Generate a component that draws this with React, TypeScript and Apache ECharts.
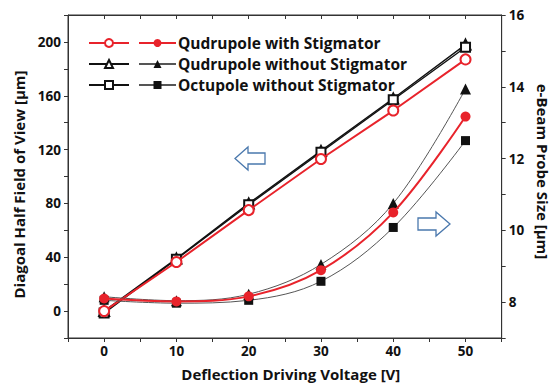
import React, { useEffect, useRef } from "react";
import * as echarts from "echarts";

const voltages = [0, 10, 20, 30, 40, 50];
// Left axis: diagonal half field of view [µm]
const fovQuadStig = [0, 36.5, 75, 113, 149, 187];
const fovQuadNoStig = [0, 39, 80, 119, 158, 198];
const fovOctNoStig = [-1.5, 38.5, 79, 118, 157, 196];
// Right axis: e-beam probe size [µm]
const probeQuadStig = [8.1, 8.02, 8.16, 8.89, 10.5, 13.17];
const probeQuadNoStig = [8.15, 8.04, 8.22, 9.05, 10.75, 13.94];
const probeOctNoStig = [8.05, 7.97, 8.05, 8.58, 10.08, 12.5];

const nameQS = "Qudrupole with Stigmator";
const nameQN = "Qudrupole without Stigmator";
const nameON = "Octupole without Stigmator";

const RED = "#e8232b";
const BLACK = "#111111";
const GRAY = "#555555";
const FONT = "'Open Sans', 'Noto Sans', sans-serif";

function pairs(xs: number[], ys: number[]) {
  return xs.map((x, i) => [x, ys[i]]);
}

export default function App() {
  const ref = useRef<HTMLDivElement>(null);
  useEffect(() => {
    document.body.style.margin = "0";
    if (!ref.current) return;
    const chart = echarts.init(ref.current, undefined, { renderer: "svg" });
    const labelStyle = { color: "#111", fontWeight: "bold" as const, fontSize: 13.5, fontFamily: FONT };
    const titleStyle = { color: "#111", fontWeight: "bold" as const, fontSize: 15, fontFamily: FONT };
    const axisLine = { show: true, onZero: false, lineStyle: { color: "#333", width: 1 } };
    const legendText = { color: "#111", fontWeight: "bold" as const, fontSize: 15.5, fontFamily: FONT, lineHeight: 16 };
    const option: any = {
      animation: false,
      backgroundColor: "#fff",
      grid: { left: 68, right: 53, top: 15, bottom: 48, show: true, borderColor: "#333", borderWidth: 1, backgroundColor: "transparent" },
      legend: [
        {
          orient: "vertical",
          left: 88,
          top: 38,
          padding: 0,
          itemWidth: 40,
          itemHeight: 10,
          itemGap: 11,
          data: [nameQS + " ", nameQN + " ", nameON + " "],
          formatter: () => "",
          textStyle: { fontSize: 1, lineHeight: 1 },
          selectedMode: false,
        },
        {
          orient: "vertical",
          left: 138,
          top: 35,
          padding: 0,
          itemWidth: 37,
          itemHeight: 10,
          itemGap: 5,
          data: [nameQS, nameQN, nameON],
          textStyle: { ...legendText, padding: [0, 0, 0, -3] },
          selectedMode: false,
        },
      ],
      xAxis: [
        {
          type: "value",
          min: -5,
          max: 55,
          interval: 5,
          name: "Deflection Driving Voltage [V]",
          nameLocation: "middle",
          nameGap: 28,
          nameTextStyle: { ...titleStyle, padding: [0, 0, 0, 12] },
          axisLine,
          axisTick: { show: true, inside: false, length: 4, lineStyle: { color: "#333" } },
          axisLabel: {
            ...labelStyle,
            margin: 6,
            formatter: (v: number) => (v % 10 === 0 && v >= 0 && v <= 50 ? String(v) : ""),
          },
          splitLine: { show: false },
        },
        {
          type: "value",
          position: "top",
          min: -5,
          max: 55,
          interval: 5,
          axisLine,
          axisTick: { show: true, inside: true, length: 4, lineStyle: { color: "#333" } },
          axisLabel: { show: false },
          splitLine: { show: false },
        },
      ],
      yAxis: [
        {
          type: "value",
          min: -20,
          max: 220,
          interval: 20,
          name: "Diagoal Half Field of View [µm]",
          nameLocation: "middle",
          nameGap: 41,
          nameRotate: 90,
          nameTextStyle: { ...titleStyle, padding: [0, 16, 0, 0] },
          axisLine,
          axisTick: { show: true, inside: false, length: 4, lineStyle: { color: "#333" } },
          axisLabel: {
            ...labelStyle,
            margin: 7,
            formatter: (v: number) => (v % 40 === 0 && v >= 0 && v <= 200 ? String(v) : ""),
          },
          splitLine: { show: false },
        },
        {
          type: "value",
          position: "right",
          min: 7,
          max: 16,
          interval: 1,
          name: "e-Beam Probe Size [µm]",
          nameLocation: "middle",
          nameGap: 26,
          nameRotate: -90,
          nameTextStyle: { ...titleStyle, padding: [0, 10, 0, 0] },
          axisLine,
          axisTick: { show: true, inside: false, length: 4, lineStyle: { color: "#333" } },
          axisLabel: {
            ...labelStyle,
            margin: 7,
            formatter: (v: number) => (v % 2 === 0 && v >= 8 ? String(v) : ""),
          },
          splitLine: { show: false },
        },
      ],
      series: [
        {
          name: nameQN + " ",
          type: "line",
          yAxisIndex: 0,
          data: pairs(voltages, fovQuadNoStig),
          symbol: "emptyTriangle",
          symbolSize: 10,
          lineStyle: { color: BLACK, width: 1.4 },
          itemStyle: { color: BLACK, borderColor: BLACK, borderWidth: 1 },
          z: 3,
        },
        {
          name: nameON + " ",
          type: "line",
          yAxisIndex: 0,
          data: pairs(voltages, fovOctNoStig),
          symbol: "emptyRect",
          symbolSize: 9,
          lineStyle: { color: BLACK, width: 1.4 },
          itemStyle: { color: BLACK, borderColor: BLACK, borderWidth: 1 },
          z: 3,
        },
        {
          name: nameQS + " ",
          type: "line",
          yAxisIndex: 0,
          data: pairs(voltages, fovQuadStig),
          symbol: "emptyCircle",
          symbolSize: 10,
          lineStyle: { color: RED, width: 2 },
          itemStyle: { color: RED, borderColor: RED, borderWidth: 1 },
          z: 4,
        },
        {
          name: nameQN,
          type: "line",
          yAxisIndex: 1,
          data: pairs(voltages, probeQuadNoStig),
          smooth: 0.35,
          symbol: "triangle",
          symbolSize: 11,
          lineStyle: { color: GRAY, width: 1 },
          itemStyle: { color: BLACK },
          z: 5,
        },
        {
          name: nameON,
          type: "line",
          yAxisIndex: 1,
          data: pairs(voltages, probeOctNoStig),
          smooth: 0.35,
          symbol: "rect",
          symbolSize: 9,
          lineStyle: { color: GRAY, width: 1 },
          itemStyle: { color: BLACK },
          z: 5,
        },
        {
          name: nameQS,
          type: "line",
          yAxisIndex: 1,
          data: pairs(voltages, probeQuadStig),
          smooth: 0.35,
          symbol: "circle",
          symbolSize: 10,
          lineStyle: { color: RED, width: 2 },
          itemStyle: { color: RED },
          z: 6,
        },
      ],
      graphic: [
        {
          type: "polygon",
          shape: {
            points: [
              [235, 158.5],
              [248, 147],
              [248, 153],
              [265, 153],
              [265, 164],
              [248, 164],
              [248, 170],
            ],
          },
          style: { fill: "#fff", stroke: "#4a78ad", lineWidth: 1.3 },
        },
        {
          type: "polygon",
          shape: {
            points: [
              [450, 224],
              [436, 212],
              [436, 218],
              [418, 218],
              [418, 230],
              [436, 230],
              [436, 236],
            ],
          },
          style: { fill: "#fff", stroke: "#4a78ad", lineWidth: 1.3 },
        },
      ],
    };
    chart.setOption(option);
    return () => chart.dispose();
  }, []);
  return <div ref={ref} style={{ width: 558, height: 386 }} />;
}
